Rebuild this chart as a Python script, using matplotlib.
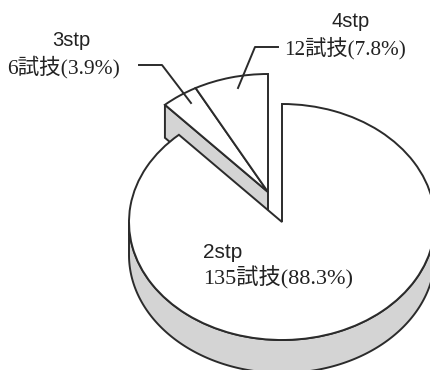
import numpy as np
import matplotlib
matplotlib.use('Agg')
import matplotlib.pyplot as plt

steps = ['2stp', '3stp', '4stp']
trials = [135, 6, 12]
percents = [88.3, 3.9, 7.8]

LINE = '#2b2b2b'
GREY = '#d4d4d4'
FONTS = ['Liberation Serif', 'Noto Sans CJK JP', 'DejaVu Sans']

W, H = 430, 370
RX, RY = 153, 118
K = RX / RY
DEPTH = 33
LW = 1.4


def py(y):
    # picture row -> data y (the data circle gets squashed into the ellipse)
    return (H - y) * K


fig = plt.figure(figsize=(W / 100, H / 100), dpi=100)
ax = fig.add_axes([0, 0, 1, 1])

wedges, _ = ax.pie(trials, startangle=90, counterclock=False, radius=RX,
                   center=(282, py(222)),
                   wedgeprops=dict(fc='white', ec=LINE, lw=LW, zorder=3))

# the two small slices are pulled out up and to the left
small_center = (268, py(192))
for w in wedges[1:]:
    w.set_center(small_center)
    w.set_zorder(4)

ax.set_aspect('auto')
ax.set_xlim(0, W)
ax.set_ylim(0, H * K)
ax.axis('off')

# rim of the big slice, front half only
t = np.radians(np.linspace(180, 360, 200))
x = 282 + RX * np.cos(t)
y_top = py(222) + RX * np.sin(t)
y_bot = y_top - DEPTH * K
ax.fill(np.r_[x, x[::-1]], np.r_[y_top, y_bot[::-1]], fc=GREY, ec=LINE, lw=LW, zorder=1)

# cut face of the small slices, on the side of the 3stp slice
ang = np.radians(wedges[1].theta2)
ex = small_center[0] + RX * np.cos(ang)
ey = small_center[1] + RX * np.sin(ang)
ax.fill([ex, small_center[0], small_center[0], ex],
        [ey, small_center[1], small_center[1] - DEPTH * K, ey - DEPTH * K],
        fc=GREY, ec=LINE, lw=LW, zorder=2)

# leader lines
ax.plot([139, 162, 191], [py(65), py(65), py(103)], color=LINE, lw=LW, zorder=5)
ax.plot([278, 255, 238], [py(47), py(47), py(88)], color=LINE, lw=LW, zorder=5)


def label(x, y, s, sans=False, **kw):
    ax.text(x, py(y), s, family=['Liberation Sans'] if sans else FONTS,
            va='center', zorder=6, color='#222222', **kw)


label(203, 253, steps[0], sans=True, fontsize=15)
label(203, 278, f'{trials[0]}試技({percents[0]}%)', fontsize=16)
label(71, 41, steps[1], sans=True, fontsize=14.5, ha='center')
label(64, 67, f'{trials[1]}試技({percents[1]}%)', fontsize=15.5, ha='center')
label(351, 22, steps[2], sans=True, fontsize=14.5, ha='center')
label(345, 48, f'{trials[2]}試技({percents[2]}%)', fontsize=15.3, ha='center')

fig.savefig('out.png', dpi=100)
